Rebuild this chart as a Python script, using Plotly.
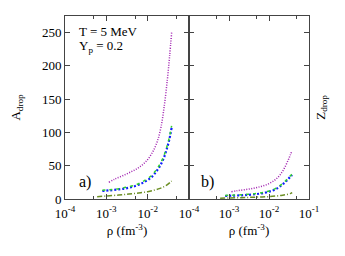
import plotly.graph_objects as go

# ---- data ----
mag_rho = [1.15e-3, 1.6e-3, 2.5e-3, 4e-3, 6e-3, 9e-3, 0.013, 0.017, 0.021, 0.025, 0.030, 0.034, 0.038]
mag_A = [25, 30, 35, 41, 47, 56, 70, 86, 108, 138, 180, 215, 250]
mag_Z = [11, 12.5, 14, 16, 18.5, 22, 27, 33, 40, 48, 58, 66, 73]

bg_rho = [8e-4, 1.2e-3, 2e-3, 3e-3, 5e-3, 8e-3, 0.012, 0.016, 0.020, 0.024, 0.028, 0.033, 0.038]
blue_A = [12, 13, 14.5, 16, 19.5, 25, 32, 41, 50, 60, 72, 88, 107]
green_A = [13, 14, 15.5, 17.5, 21, 27, 34.5, 43.5, 53, 63, 75, 91, 110]
blue_Z = [4.5, 5, 5.5, 6.2, 7.5, 9.5, 12.5, 16, 20, 24, 28, 32.5, 36]
green_Z = [5.3, 5.8, 6.3, 7.1, 8.4, 10.5, 13.5, 17.2, 21.3, 25.3, 29.4, 34, 37.5]

ol_rho = [6e-4, 1e-3, 2e-3, 3.5e-3, 6e-3, 0.01, 0.015, 0.02, 0.025, 0.03, 0.035, 0.038]
olive_A = [3.5, 4.5, 6, 7.5, 9, 11, 13.5, 16, 18.5, 21.5, 25, 27]
olive_Z = [1.2, 1.5, 2, 2.5, 3, 3.6, 4.5, 5.3, 6.3, 7.3, 8.5, 9.5]

x_ticks = [1e-4, 1e-3, 1e-2, 1e-1]
x_ticktext = ["10<sup>-4</sup>", "10<sup>-3</sup>", "10<sup>-2</sup>", "10<sup>-1</sup>"]
x_minor = [5e-4, 5e-3, 5e-2]
y_ticks = [0, 50, 100, 150, 200, 250]

MAG = "#a020b0"
GREEN = "#30d030"
BLUE = "#1020ff"
OLIVE = "#6b8e23"

FONT = "Times New Roman, Liberation Serif, serif"

fig = go.Figure()

def add(x, y, color, dash, width, xa, ya):
    fig.add_trace(go.Scatter(x=x, y=y, mode="lines", line=dict(color=color, dash=dash, width=width, shape="spline"),
                             xaxis=xa, yaxis=ya, showlegend=False, hoverinfo="skip"))

for xa, ya, (m, g, b, o) in [("x", "y", (mag_A, green_A, blue_A, olive_A)),
                             ("x2", "y2", (mag_Z, green_Z, blue_Z, olive_Z))]:
    add(mag_rho, m, MAG, "1px,1.5px", 1.5, xa, ya)
    add(bg_rho, b, BLUE, "2px,2px", 2.2, xa, ya)
    add(bg_rho, g, GREEN, "3px,4px", 1.5, xa, ya)
    add(ol_rho, o, OLIVE, "5px,2px,1px,2px", 1.5, xa, ya)

axis_common = dict(type="log", range=[-4, -1], ticks="inside", ticklen=5, tickcolor="#444",
                   showline=True, linecolor="#444", linewidth=1, mirror="ticks", showgrid=False,
                   zeroline=False, tickmode="array", ticklabelstandoff=2,
                   tickfont=dict(family=FONT, size=13, color="black"),
                   minor=dict(tickmode="array", tickvals=x_minor, ticks="inside", ticklen=3, tickcolor="#444"),
                   title=dict(text="ρ (fm<sup>-3</sup>)", font=dict(family=FONT, size=13, color="black"), standoff=6))

yaxis_common = dict(range=[0, 275], tickmode="array", tickvals=y_ticks, ticks="inside", ticklen=5, tickcolor="#444",
                    showline=True, linecolor="#444", linewidth=1, mirror="ticks", showgrid=False,
                    zeroline=False, tickfont=dict(family=FONT, size=13, color="black"))

split = 124 / 244

fig.update_layout(
    width=345, height=256,
    margin=dict(l=57, r=44, t=8, b=65),
    paper_bgcolor="white", plot_bgcolor="white",
    font=dict(family=FONT, size=13, color="black"),
    xaxis=dict(axis_common, domain=[0, split], anchor="y",
               tickvals=x_ticks[:3], ticktext=x_ticktext[:3]),
    xaxis2=dict(axis_common, domain=[split, 1], anchor="y2", tickvals=x_ticks, ticktext=x_ticktext),
    yaxis=dict(yaxis_common, anchor="x",
               title=dict(text="A<sub>drop</sub>", font=dict(family=FONT, size=13), standoff=18)),
    yaxis2=dict(yaxis_common, anchor="x2", side="right", showticklabels=False,
                title=dict(text="Z<sub>drop</sub>", font=dict(family=FONT, size=13), standoff=6)),
)

fig.add_annotation(xref="paper", yref="paper", x=0.05, y=0.915, xanchor="left", yanchor="middle",
                   text="T = 5 MeV", showarrow=False, font=dict(family=FONT, size=13))
fig.add_annotation(xref="paper", yref="paper", x=0.05, y=0.835, xanchor="left", yanchor="middle",
                   text="Y<sub>p</sub> = 0.2", showarrow=False, font=dict(family=FONT, size=13))
fig.add_annotation(xref="paper", yref="paper", x=0.05, y=0.095, xanchor="left", yanchor="middle",
                   text="a)", showarrow=False, font=dict(family=FONT, size=16))
fig.add_annotation(xref="paper", yref="paper", x=0.55, y=0.095, xanchor="left", yanchor="middle",
                   text="b)", showarrow=False, font=dict(family=FONT, size=16))

fig.write_html("out.html")
